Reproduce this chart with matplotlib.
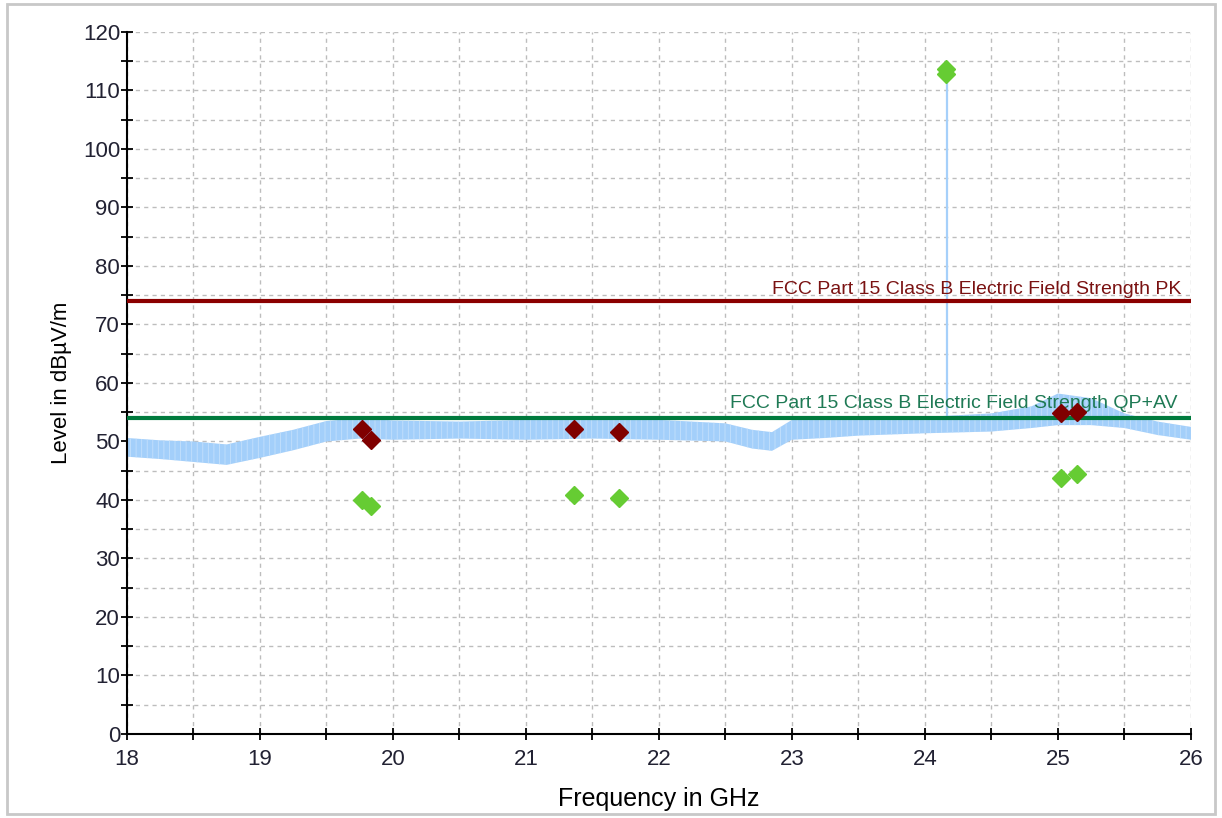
import numpy as np
import matplotlib

matplotlib.use("Agg")
import matplotlib.pyplot as plt
from matplotlib.patches import Rectangle
from matplotlib.ticker import MultipleLocator

plt.rcParams["font.family"] = ["Liberation Sans", "DejaVu Sans"]
plt.rcParams["hatch.linewidth"] = 0.6

# Measured spectrum, read as a min/max envelope of the noisy trace (GHz, dBuV/m)
trace_freq = [18.0, 18.25, 18.5, 18.75, 19.0, 19.25, 19.5, 19.75, 20.0, 20.5,
              21.0, 21.5, 22.0, 22.5, 22.7, 22.85, 23.0, 23.25, 23.5, 24.0,
              24.5, 24.8, 25.0, 25.25, 25.5, 25.75, 26.0]
trace_low = [47.4, 47.0, 46.5, 46.0, 47.2, 48.5, 50.0, 50.5, 50.3, 50.5,
             50.3, 50.5, 50.3, 50.0, 48.8, 48.4, 50.3, 50.6, 51.0, 51.4,
             51.7, 52.3, 52.8, 52.8, 52.3, 51.1, 50.3]
trace_high = [50.6, 50.2, 50.0, 49.5, 50.8, 52.0, 53.5, 54.0, 53.6, 53.4,
              53.7, 54.0, 53.7, 53.1, 52.0, 51.6, 53.7, 53.7, 54.0, 54.2,
              54.8, 56.0, 58.2, 57.4, 54.8, 53.4, 52.5]

# Carrier spike
spike_freq = 24.165
spike_base = 54.0
spike_top = 113.0

# Final measurement points
peak_freq = [19.77, 19.835, 21.36, 21.70, 25.02, 25.14]
peak_level = [52.1, 50.3, 52.1, 51.6, 54.8, 55.1]
avg_freq = [19.77, 19.835, 21.36, 21.70, 25.02, 25.14, 24.16, 24.16]
avg_level = [40.0, 39.0, 40.9, 40.3, 43.8, 44.4, 113.6, 112.8]

# Limits
pk_limit = 74.0
av_limit = 54.0
pk_label = "FCC Part 15 Class B Electric Field Strength PK"
av_label = "FCC Part 15 Class B Electric Field Strength QP+AV"

fig = plt.figure(figsize=(12.22, 8.18), dpi=100)
ax = fig.add_axes([0.1039, 0.1027, 0.8707, 0.8582])

fig.patches.append(Rectangle((0.006, 0.005), 0.988, 0.99, transform=fig.transFigure,
                             fill=False, edgecolor="#c8c8c8", linewidth=2))

ax.fill_between(trace_freq, trace_low, trace_high, facecolor="#a3cffa",
                edgecolor="#c4e0fc", hatch="|||", linewidth=0, zorder=2)
ax.plot([spike_freq, spike_freq], [spike_base, spike_top], color="#a6d0fa", lw=1.6, zorder=2)

ax.axhline(pk_limit, color="#8b0000", lw=3, zorder=3)
ax.axhline(av_limit, color="#007a3d", lw=3, zorder=3)
ax.text(25.93, pk_limit + 0.6, pk_label, color="#7a1212", fontsize=14,
        ha="right", va="bottom", zorder=4)
ax.text(25.90, av_limit + 1.0, av_label, color="#1f7a55", fontsize=14,
        ha="right", va="bottom", zorder=4)

ax.plot(peak_freq, peak_level, "D", color="#800000", markersize=9, ls="none", zorder=5)
ax.plot(avg_freq, avg_level, "D", color="#66cc33", markersize=9, ls="none", zorder=5)

ax.set_xlim(18, 26)
ax.set_ylim(0, 120)
ax.xaxis.set_major_locator(MultipleLocator(1))
ax.xaxis.set_minor_locator(MultipleLocator(0.5))
ax.yaxis.set_major_locator(MultipleLocator(10))
ax.yaxis.set_minor_locator(MultipleLocator(5))
ax.grid(True, which="both", color="#bdbdbd", ls=(0, (3, 3)), lw=1)
ax.set_axisbelow(True)

for side in ("top", "right"):
    ax.spines[side].set_visible(False)
for side in ("left", "bottom"):
    ax.spines[side].set_linewidth(1.5)
ax.tick_params(which="both", direction="inout", length=8, width=1.3,
               labelsize=16, labelcolor="#222233")
ax.tick_params(axis="y", pad=1)
ax.tick_params(axis="x", pad=7)

ax.set_xlabel("Frequency in GHz", fontsize=18, labelpad=12)
ax.set_ylabel("Level in dBµV/m", fontsize=16, labelpad=8)

fig.savefig("out.png", dpi=100)
